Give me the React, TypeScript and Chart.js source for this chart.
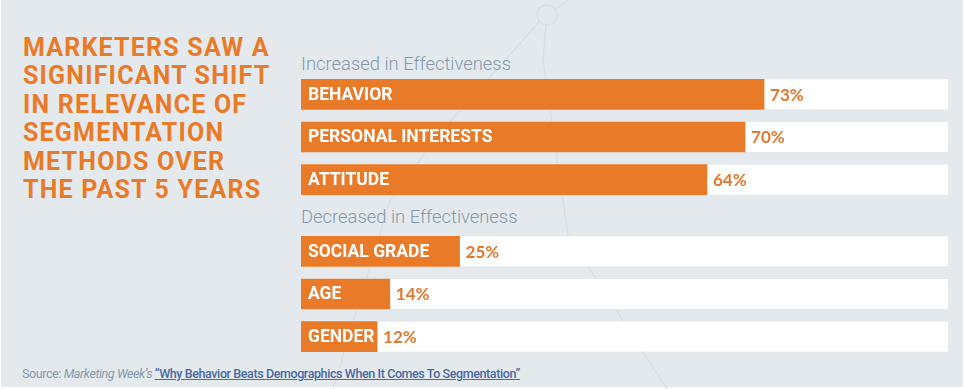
import React, { useEffect, useRef } from "react";
import { Chart, registerables } from "chart.js";

Chart.register(...registerables);

// ---------- data ----------
const headlineLines = [
  "MARKETERS SAW A",
  "SIGNIFICANT SHIFT",
  "IN RELEVANCE OF",
  "SEGMENTATION",
  "METHODS OVER",
  "THE PAST 5 YEARS",
];
const groupTitles = ["Increased in Effectiveness", "Decreased in Effectiveness"];
const increasedLabels = ["BEHAVIOR", "PERSONAL INTERESTS", "ATTITUDE"];
const increasedValues = [73, 70, 64];
const decreasedLabels = ["SOCIAL GRADE", "AGE", "GENDER"];
const decreasedValues = [25, 14, 12];
const scaleMax = 102;
const sourcePrefix = "Source: ";
const sourcePublication = "Marketing Week’s";
const sourceTitle = "“Why Behavior Beats Demographics When It Comes To Segmentation”";

// ---------- styles ----------
const ORANGE = "#e97a27";
const VALUE_ORANGE = "#e2782e";
const BG = "#e4e9ed";
const TITLE_GRAY = "#8599ae";

const barPlugin = {
  id: "trackAndLabels",
  beforeDatasetsDraw(chart: any) {
    const { ctx, chartArea } = chart;
    const meta = chart.getDatasetMeta(0);
    ctx.save();
    ctx.fillStyle = "#ffffff";
    meta.data.forEach((bar: any) => {
      const p = bar.getProps(["y", "height"], true);
      ctx.fillRect(chartArea.left, p.y - p.height / 2, chartArea.right - chartArea.left, p.height);
    });
    ctx.restore();
  },
  afterDatasetsDraw(chart: any) {
    const { ctx } = chart;
    const meta = chart.getDatasetMeta(0);
    const labels = chart.data.labels as string[];
    const values = chart.data.datasets[0].data as number[];
    ctx.save();
    ctx.textBaseline = "middle";
    ctx.textAlign = "left";
    meta.data.forEach((bar: any, i: number) => {
      const p = bar.getProps(["x", "y", "base"], true);
      ctx.fillStyle = "#ffffff";
      ctx.font = "bold 17.5px Roboto";
      ctx.fillText(labels[i], p.base + 7, p.y + 1);
      ctx.fillStyle = VALUE_ORANGE;
      ctx.font = "bold 17px Lato";
      ctx.fillText(`${values[i]}%`, p.x + 6, p.y + 1);
    });
    ctx.restore();
  },
};

function BarGroup({ labels, values, top }: { labels: string[]; values: number[]; top: number }) {
  const ref = useRef<HTMLCanvasElement | null>(null);
  useEffect(() => {
    if (!ref.current) return;
    const chart = new Chart(ref.current, {
      type: "bar",
      data: {
        labels,
        datasets: [
          {
            data: values,
            backgroundColor: ORANGE,
            borderWidth: 0,
            barThickness: 30,
          },
        ],
      },
      options: {
        indexAxis: "y",
        responsive: false,
        animation: false,
        layout: { padding: 0 },
        plugins: { legend: { display: false }, tooltip: { enabled: false }, title: { display: false } },
        scales: {
          x: { display: false, min: 0, max: scaleMax },
          y: { display: false },
        },
      },
      plugins: [barPlugin],
    });
    return () => chart.destroy();
  }, [labels, values]);
  return (
    <canvas
      ref={ref}
      width={647}
      height={128}
      style={{ position: "absolute", left: 301, top, width: 647, height: 128, display: "block" }}
    />
  );
}

const sectionTitleStyle: React.CSSProperties = {
  position: "absolute",
  left: 301,
  fontFamily: "Roboto",
  fontWeight: 300,
  fontSize: 18.4,
  lineHeight: "20px",
  color: TITLE_GRAY,
  whiteSpace: "nowrap",
};

export default function App() {
  return (
    <div style={{ position: "fixed", left: 0, top: 0, width: 964, height: 389, background: "#ffffff", overflow: "hidden" }}>
      <div style={{ position: "absolute", left: 1, top: 0, width: 962, height: 387, background: BG }} />
      <svg
        width={964}
        height={389}
        style={{ position: "absolute", left: 0, top: 0 }}
        fill="none"
        stroke="#d7dfe5"
        strokeWidth={1.3}
      >
        <circle cx={547} cy={15} r={10} />
        <polyline points="555,9 568,0" />
        <polyline points="539,22 440,133 390,200 333,389" />
        <polyline points="546,25 543,60 568,235 667,389" />
      </svg>
      <div
        style={{
          position: "absolute",
          left: 23,
          top: 34,
          fontFamily: "Roboto",
          fontWeight: 700,
          fontSize: 25,
          lineHeight: "28.4px",
          color: ORANGE,
          letterSpacing: 1.2,
          whiteSpace: "nowrap",
        }}
      >
        {headlineLines.map((l) => (
          <div key={l}>{l}</div>
        ))}
      </div>
      <div style={{ ...sectionTitleStyle, top: 54 }}>{groupTitles[0]}</div>
      <div style={{ ...sectionTitleStyle, top: 207 }}>{groupTitles[1]}</div>
      <BarGroup labels={increasedLabels} values={increasedValues} top={73} />
      <BarGroup labels={decreasedLabels} values={decreasedValues} top={230} />
      <div
        style={{
          position: "absolute",
          left: 22,
          top: 366,
          fontFamily: "Roboto",
          fontSize: 12.5,
          letterSpacing: -0.4,
          lineHeight: "15px",
          color: TITLE_GRAY,
          whiteSpace: "nowrap",
        }}
      >
        {sourcePrefix}
        <i>{sourcePublication}</i>{" "}
        <span style={{ color: "#4b6aa1", textDecoration: "underline", fontWeight: 500 }}>{sourceTitle}</span>
      </div>
    </div>
  );
}
